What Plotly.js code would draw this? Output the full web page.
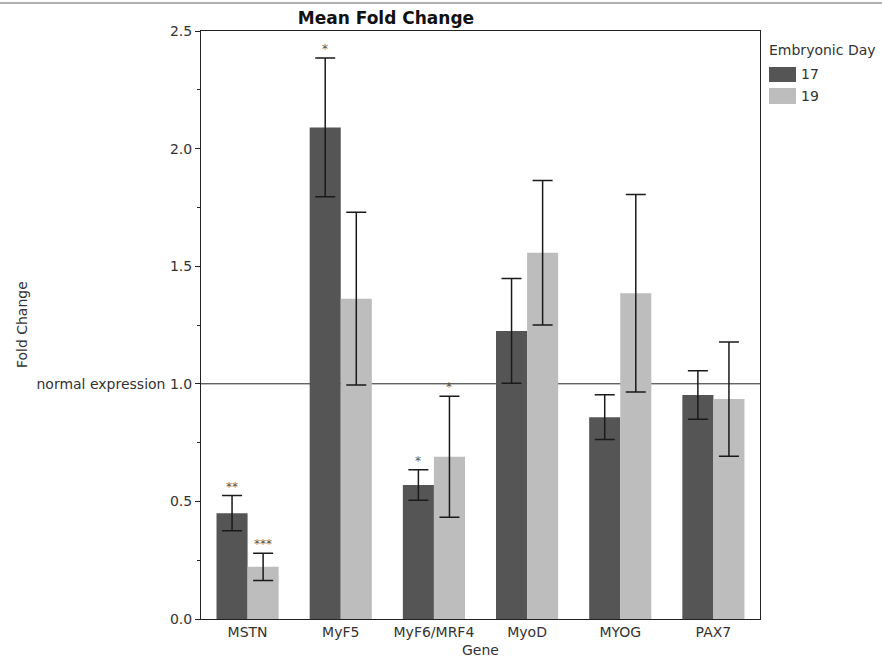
<!DOCTYPE html>
<html>
<head>
<meta charset="utf-8">
<script src="https://cdn.plot.ly/plotly-3.0.1.min.js"></script>
<style>html,body{margin:0;padding:0;background:#fff;}#chart{width:882px;height:662px;}</style>
</head>
<body>
<div id="chart"></div>
<script>
const genes = ["MSTN", "MyF5", "MyF6/MRF4", "MyoD", "MYOG", "PAX7"];
const day17 = [0.45, 2.09, 0.57, 1.225, 0.858, 0.952];
const day17Err = [0.075, 0.295, 0.065, 0.223, 0.095, 0.103];
const day19 = [0.222, 1.362, 0.69, 1.557, 1.385, 0.935];
const day19Err = [0.058, 0.367, 0.257, 0.307, 0.42, 0.243];
const sig17 = ["**", "*", "*", "", "", ""];
const sig19 = ["***", "", "*", "", "", ""];
const yTickVals = [0, 0.5, 1.0, 1.5, 2.0, 2.5];
const yTickText = ["0.0", "0.5", "normal expression 1.0", "1.5", "2.0", "2.5"];
const seriesNames = ["17", "19"];
const legendTitle = "Embryonic Day";
const colors = ["#555555", "#bdbdbd"];

const font = "DejaVu Sans, Verdana, sans-serif";
const txt = "#333";
const errStyle = {type: "data", visible: true, color: "#1a1a1a", thickness: 1.5, width: 10};

const traces = [
  {type: "bar", name: seriesNames[0], x: genes, y: day17,
   error_y: Object.assign({array: day17Err}, errStyle),
   marker: {color: colors[0], line: {width: 0}}},
  {type: "bar", name: seriesNames[1], x: genes, y: day19,
   error_y: Object.assign({array: day19Err}, errStyle),
   marker: {color: colors[1], line: {width: 0}}}
];

const annotations = [];
genes.forEach((g, i) => {
  if (sig17[i]) annotations.push({x: g, y: day17[i] + day17Err[i], xref: "x", yref: "y",
    text: sig17[i], showarrow: false, xshift: -15.5, yanchor: "bottom", yshift: 0,
    font: {family: font, size: 12, color: "#555"}});
  if (sig19[i]) annotations.push({x: g, y: day19[i] + day19Err[i], xref: "x", yref: "y",
    text: sig19[i], showarrow: false, xshift: 15.5, yanchor: "bottom", yshift: 0,
    font: {family: font, size: 12, color: "#555"}});
});
// axis titles
annotations.push({xref: "paper", yref: "paper", x: -0.32, y: 0.5, textangle: -90, showarrow: false,
  xanchor: "center", yanchor: "middle", text: "Fold Change", font: {family: font, size: 14, color: txt}});
annotations.push({xref: "paper", yref: "paper", x: 0.5, y: -0.0527, showarrow: false,
  xanchor: "center", yanchor: "middle", text: "Gene", font: {family: font, size: 14, color: txt}});
// custom legend
annotations.push({xref: "paper", yref: "paper", x: 1.0125, y: 0.9677, showarrow: false,
  xanchor: "left", yanchor: "middle", text: legendTitle, font: {family: font, size: 14, color: txt}});
const legY = [[0.9388, 0.9133], [0.9031, 0.8759]];
const shapes = [
  {type: "line", xref: "paper", yref: "y", x0: 0, x1: 1, y0: 1, y1: 1, layer: "below",
   line: {color: "#222", width: 1}},
  {type: "line", xref: "paper", yref: "paper", x0: -0.36, x1: 1.22, y0: 1.0476, y1: 1.0476,
   line: {color: "#b0b0b0", width: 2}}
];
seriesNames.forEach((n, i) => {
  shapes.push({type: "rect", xref: "paper", yref: "paper", x0: 1.0161, x1: 1.0644,
    y0: legY[i][1], y1: legY[i][0], fillcolor: colors[i], line: {width: 0}});
  annotations.push({xref: "paper", yref: "paper", x: 1.0698, y: (legY[i][0] + legY[i][1]) / 2,
    showarrow: false, xanchor: "left", yanchor: "middle", text: n,
    font: {family: font, size: 14, color: txt}});
});

const layout = {
  width: 882, height: 662,
  margin: {l: 201, r: 122, t: 31, b: 43, pad: 0},
  paper_bgcolor: "#ffffff", plot_bgcolor: "#ffffff",
  font: {family: font, size: 14, color: txt},
  title: {text: "<b>Mean Fold Change</b>", x: 0.4376, xanchor: "center", y: 0.973, yanchor: "middle",
          font: {family: font, size: 17, color: "#111"}},
  barmode: "group", bargap: 0.333, bargroupgap: 0,
  showlegend: false,
  xaxis: {type: "category", showline: true, linecolor: "#222", linewidth: 1, mirror: true,
          ticks: "", showgrid: false, zeroline: false,
          tickfont: {family: font, size: 14, color: txt}},
  yaxis: {range: [0, 2.5], showline: true, linecolor: "#222", linewidth: 1, mirror: true,
          tickvals: yTickVals, ticktext: yTickText, ticks: "outside", ticklen: 5, tickcolor: "#222",
          minor: {dtick: 0.25, ticks: "outside", ticklen: 3, tickcolor: "#222", showgrid: false},
          showgrid: false, zeroline: false,
          tickfont: {family: font, size: 14, color: txt}},
  shapes: shapes,
  annotations: annotations
};

Plotly.newPlot("chart", traces, layout, {displayModeBar: false, staticPlot: true});
</script>
</body>
</html>
